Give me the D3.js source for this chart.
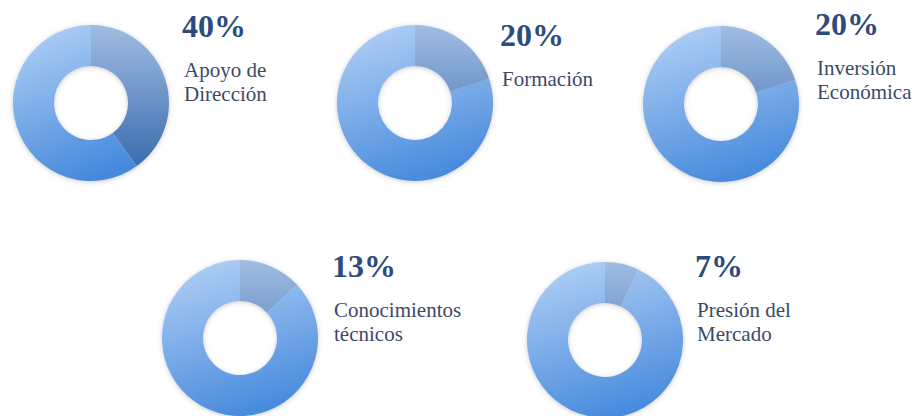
<!DOCTYPE html>
<html>
<head>
<meta charset="utf-8">
<script src="https://cdn.jsdelivr.net/npm/d3@7"></script>
<style>
  body { margin: 0; background: #fff; }
  svg { display: block; }
  text { font-family: 'Liberation Serif', 'Times New Roman', 'DejaVu Serif', serif; }
</style>
</head>
<body>
<svg id="chart" width="918" height="416"></svg>
<script>
// data
const categories = [
  ['Apoyo de', 'Dirección'],
  ['Formación'],
  ['Inversión', 'Económica'],
  ['Conocimientos', 'técnicos'],
  ['Presión del', 'Mercado']
];
const values = [40, 20, 20, 13, 7];

// panel layout: donut centre and where the text block starts
const panels = [
  { cx: 91, cy: 103, tx: 182, ty: 37 },
  { cx: 415, cy: 103, tx: 500, ty: 46 },
  { cx: 721, cy: 104, tx: 815, ty: 35 },
  { cx: 240, cy: 338, tx: 332, ty: 277 },
  { cx: 605, cy: 340, tx: 695, ty: 277 }
];

const outerR = 78;
const innerR = 37;

const svg = d3.select('#chart');
const defs = svg.append('defs');

const mainGrad = defs.append('linearGradient')
  .attr('id', 'mainGrad')
  .attr('x1', 0.3).attr('y1', 0).attr('x2', 0.6).attr('y2', 1);
mainGrad.append('stop').attr('offset', '0%').attr('stop-color', '#aecdf5');
mainGrad.append('stop').attr('offset', '100%').attr('stop-color', '#4589dc');

const darkGrad = defs.append('linearGradient')
  .attr('id', 'darkGrad')
  .attr('gradientUnits', 'userSpaceOnUse')
  .attr('x1', 0).attr('y1', -outerR).attr('x2', 0).attr('y2', outerR);
darkGrad.append('stop').attr('offset', '0%').attr('stop-color', '#a0bde2');
darkGrad.append('stop').attr('offset', '100%').attr('stop-color', '#3064a8');

const glow = defs.append('filter')
  .attr('id', 'glow')
  .attr('x', '-20%').attr('y', '-20%').attr('width', '140%').attr('height', '140%');
glow.append('feDropShadow')
  .attr('dx', 0).attr('dy', 1)
  .attr('stdDeviation', 2.5)
  .attr('flood-color', '#8a8a8a')
  .attr('flood-opacity', 0.45);

const pie = d3.pie().sort(null).value((d) => d);
const arc = d3.arc().innerRadius(innerR).outerRadius(outerR);

const g = svg.selectAll('g.panel')
  .data(values)
  .join('g')
  .attr('class', 'panel');

const donut = g.append('g')
  .attr('transform', (d, i) => `translate(${panels[i].cx},${panels[i].cy})`)
  .attr('filter', 'url(#glow)');

donut.selectAll('path')
  .data((d) => pie([d, 100 - d]))
  .join('path')
  .attr('d', arc)
  .attr('fill', (d, i) => (i === 0 ? 'url(#darkGrad)' : 'url(#mainGrad)'));

g.append('text')
  .attr('x', (d, i) => panels[i].tx)
  .attr('y', (d, i) => panels[i].ty)
  .style('font-weight', 'bold')
  .style('font-size', '32px')
  .attr('fill', '#2d4b7c')
  .text((d) => d + '%');

g.append('text')
  .style('font-size', '21px')
  .attr('fill', '#3c4a66')
  .each(function (d, i) {
    d3.select(this)
      .selectAll('tspan')
      .data(categories[i])
      .join('tspan')
      .attr('x', panels[i].tx + 2)
      .attr('y', (t, j) => panels[i].ty + 40 + j * 24)
      .text((t) => t);
  });
</script>
</body>
</html>
